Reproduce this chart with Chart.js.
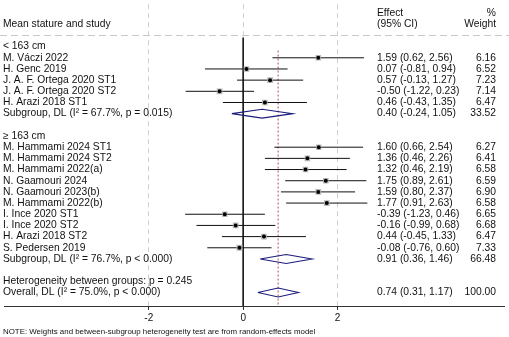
<!DOCTYPE html>
<html>
<head>
<meta charset="utf-8">
<script src="https://cdn.jsdelivr.net/npm/chart.js@4"></script>
<style>
  html, body { margin: 0; padding: 0; background: #fff; }
  #wrap { width: 509px; height: 337px; }
</style>
</head>
<body>
<div id="wrap"><canvas id="forest" width="509" height="337"></canvas></div>
<script>
// study level effects, 95% CI and weights
const studyNames = [
  'M. Váczi 2022', 'H. Genc 2019', 'J. A. F. Ortega 2020 ST1', 'J. A. F. Ortega 2020 ST2', 'H. Arazi 2018 ST1',
  'M. Hammami 2024 ST1', 'M. Hammami 2024 ST2', 'M. Hammami 2022(a)', 'N. Gaamouri 2024', 'N. Gaamouri 2023(b)',
  'M. Hammami 2022(b)', 'I. Ince 2020 ST1', 'I. Ince 2020 ST2', 'H. Arazi 2018 ST2', 'S. Pedersen 2019'
];
const studyGroup = [0, 0, 0, 0, 0, 1, 1, 1, 1, 1, 1, 1, 1, 1, 1];
const studyEffect = [1.59, 0.07, 0.57, -0.50, 0.46, 1.60, 1.36, 1.32, 1.75, 1.59, 1.77, -0.39, -0.16, 0.44, -0.08];
const studyLow = [0.62, -0.81, -0.13, -1.22, -0.43, 0.66, 0.46, 0.46, 0.89, 0.80, 0.91, -1.23, -0.99, -0.45, -0.76];
const studyHigh = [2.56, 0.94, 1.27, 0.23, 1.35, 2.54, 2.26, 2.19, 2.61, 2.37, 2.63, 0.46, 0.68, 1.33, 0.60];
const studyWeight = [6.16, 6.52, 7.23, 7.14, 6.47, 6.27, 6.41, 6.58, 6.59, 6.90, 6.58, 6.65, 6.68, 6.47, 7.33];

// pooled estimates per subgroup
const groupNames = ['< 163 cm', '≥ 163 cm'];
const groupStats = ['Subgroup, DL (I² = 67.7%, p = 0.015)', 'Subgroup, DL (I² = 76.7%, p < 0.000)'];
const groupEffect = [0.40, 0.91];
const groupLow = [-0.24, 0.36];
const groupHigh = [1.05, 1.46];
const groupWeight = [33.52, 66.48];

// overall pooled estimate
const hetLabel = 'Heterogeneity between groups: p = 0.245';
const overallLabel = 'Overall, DL (I² = 75.0%, p < 0.000)';
const overallEffect = 0.74;
const overallLow = 0.31;
const overallHigh = 1.17;
const overallWeight = 100.00;

const xTicks = [-2, 0, 2];
const noteText = 'NOTE: Weights and between-subgroup heterogeneity test are from random-effects model';

const FONT = '"Liberation Sans", Arial, sans-serif';
const GAP = { x: NaN, y: NaN };

// lay the table out row by row
const textRows = [];
const studyRow = [];
const groupRow = [];
let r = 0;
groupNames.forEach((g, gi) => {
  textRows.push({ row: r++, label: g });
  studyNames.forEach((s, i) => {
    if (studyGroup[i] !== gi) return;
    studyRow[i] = r;
    textRows.push({ row: r++, label: s, effect: studyEffect[i], low: studyLow[i], high: studyHigh[i], weight: studyWeight[i] });
  });
  groupRow[gi] = r;
  textRows.push({ row: r++, label: groupStats[gi], effect: groupEffect[gi], low: groupLow[gi], high: groupHigh[gi], weight: groupWeight[gi] });
  r++;
});
textRows.push({ row: r++, label: hetLabel });
const overallRow = r;
textRows.push({ row: r++, label: overallLabel, effect: overallEffect, low: overallLow, high: overallHigh, weight: overallWeight });

const fmt = (v) => v.toFixed(2);

// CI whiskers, broken between studies
const ciData = [];
studyNames.forEach((s, i) => {
  ciData.push({ x: studyLow[i], y: studyRow[i] }, { x: studyHigh[i], y: studyRow[i] }, GAP);
});

// pooled diamonds
const diamondData = [];
const addDiamond = (e, lo, hi, row) => {
  const h = 0.4;
  diamondData.push({ x: lo, y: row }, { x: e, y: row - h }, { x: hi, y: row }, { x: e, y: row + h }, { x: lo, y: row }, GAP);
};
groupNames.forEach((g, gi) => addDiamond(groupEffect[gi], groupLow[gi], groupHigh[gi], groupRow[gi]));
addDiamond(overallEffect, overallLow, overallHigh, overallRow);

const Y_MIN = -3.795;
const Y_MAX = 23.21;

const tablePlugin = {
  id: 'tableText',
  beforeDatasetsDraw(chart) {
    const { ctx, scales: { y } } = chart;
    // dashed rule under the header
    const py = Math.round(y.getPixelForValue(-1)) + 0.5;
    ctx.save();
    ctx.strokeStyle = '#c8c8c8';
    ctx.lineWidth = 1;
    ctx.setLineDash([7, 4]);
    ctx.beginPath();
    ctx.moveTo(0, py);
    ctx.lineTo(chart.width, py);
    ctx.stroke();
    ctx.restore();
  },
  afterDatasetsDraw(chart) {
    const { ctx, scales: { y } } = chart;
    ctx.save();
    ctx.fillStyle = '#111';
    ctx.font = '10.3px ' + FONT;
    ctx.textBaseline = 'middle';

    const effX = 377;
    const wX = 496;

    // header
    ctx.textAlign = 'left';
    ctx.fillText('Mean stature and study', 3, y.getPixelForValue(-2));
    ctx.fillText('Effect', effX, y.getPixelForValue(-3));
    ctx.fillText('(95% CI)', effX, y.getPixelForValue(-2));
    ctx.textAlign = 'right';
    ctx.fillText('%', wX, y.getPixelForValue(-3));
    ctx.fillText('Weight', wX, y.getPixelForValue(-2));

    textRows.forEach((t) => {
      const py = y.getPixelForValue(t.row);
      ctx.textAlign = 'left';
      ctx.fillText(t.label, 3, py);
      if (t.effect !== undefined) {
        ctx.fillText(`${fmt(t.effect)} (${fmt(t.low)}, ${fmt(t.high)})`, effX, py);
        ctx.textAlign = 'right';
        ctx.fillText(fmt(t.weight), wX, py);
      }
    });

    ctx.textAlign = 'left';
    ctx.font = '7.9px ' + FONT;
    ctx.fillText(noteText, 3, 332);
    ctx.restore();
  }
};

// datasets listed first are painted last (on top)
new Chart(document.getElementById('forest'), {
  type: 'scatter',
  data: {
    datasets: [
      {
        data: studyEffect.map((e, i) => ({ x: e, y: studyRow[i] })),
        pointStyle: 'circle',
        pointRadius: 2,
        backgroundColor: '#000',
        borderWidth: 0
      },
      {
        // weight boxes
        data: studyEffect.map((e, i) => ({ x: e, y: studyRow[i] })),
        pointStyle: 'rect',
        pointRadius: studyWeight.map((w) => Math.sqrt(w) * 1.55),
        backgroundColor: '#b8b8b8',
        borderWidth: 0
      },
      {
        data: diamondData,
        showLine: true,
        spanGaps: false,
        borderColor: '#1c1c7c',
        borderWidth: 1.1,
        pointRadius: 0,
        fill: false
      },
      {
        data: ciData,
        showLine: true,
        spanGaps: false,
        borderColor: '#111',
        borderWidth: 1,
        pointRadius: 0
      },
      {
        // overall effect reference
        data: [{ x: overallEffect, y: 0.35 }, { x: overallEffect, y: Y_MAX }],
        showLine: true,
        borderColor: '#b04a6a',
        borderWidth: 1,
        borderDash: [2, 2],
        pointRadius: 0
      },
      {
        // line of no effect
        data: [{ x: 0, y: -0.8 }, { x: 0, y: Y_MAX }],
        showLine: true,
        borderColor: '#1a1a1a',
        borderWidth: 1,
        pointRadius: 0
      }
    ]
  },
  options: {
    responsive: false,
    animation: false,
    events: [],
    layout: { padding: 0 },
    plugins: { legend: { display: false }, tooltip: { enabled: false } },
    scales: {
      x: {
        type: 'linear',
        min: -243 / 48,
        max: (509 - 243) / 48,
        afterBuildTicks: (scale) => { scale.ticks = xTicks.map((v) => ({ value: v })); },
        afterFit: (scale) => { scale.height = 31; },
        grid: {
          color: '#cfcfcf',
          lineWidth: 1,
          drawTicks: true,
          tickLength: 4,
          tickColor: '#333'
        },
        border: { display: true, color: '#333', width: 1, dash: [5, 4] },
        ticks: {
          color: '#111',
          font: { family: FONT, size: 10 },
          padding: 2,
          maxRotation: 0,
          autoSkip: false
        }
      },
      y: {
        type: 'linear',
        display: false,
        reverse: true,
        min: Y_MIN,
        max: Y_MAX
      }
    }
  },
  plugins: [tablePlugin]
});
</script>
</body>
</html>
